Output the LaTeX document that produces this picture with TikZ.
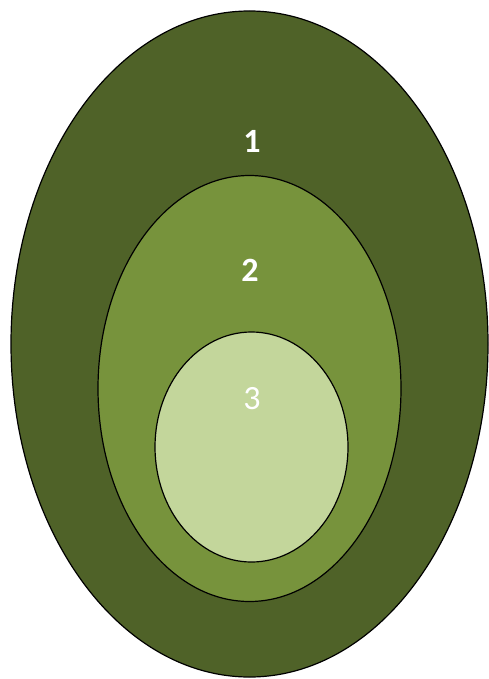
\documentclass[tikz,border=0pt]{standalone}
\usepackage{fontspec}
\setmainfont{Carlito}
\definecolor{olvdark}{HTML}{4F6228}
\definecolor{olvmid}{HTML}{77933C}
\definecolor{olvlight}{HTML}{C3D69B}
\tikzset{ring/.style={draw=black, line width=1.2pt},
  lbl/.style={text=white, font=\fontsize{34}{34}\selectfont, inner sep=0pt}}
\begin{document}
\begin{tikzpicture}[x=1pt,y=-1pt]
\useasboundingbox (0,0) rectangle (488,679);
\draw[ring, fill=olvdark] (249.5,344) ellipse [x radius=238.5, y radius=333];
\draw[ring, fill=olvmid] (249.5,388.5) ellipse [x radius=151.5, y radius=213];
\draw[ring, fill=olvlight] (251.5,447) ellipse [x radius=96.5, y radius=115];
\node[lbl, font=\fontsize{34}{34}\selectfont\bfseries] (l1) at (252,141) {1};
\node[lbl, font=\fontsize{34}{34}\selectfont\bfseries] (l2) at (250,270) {2};
\node[lbl] (l3) at (252,399) {3};
\end{tikzpicture}
\end{document}
